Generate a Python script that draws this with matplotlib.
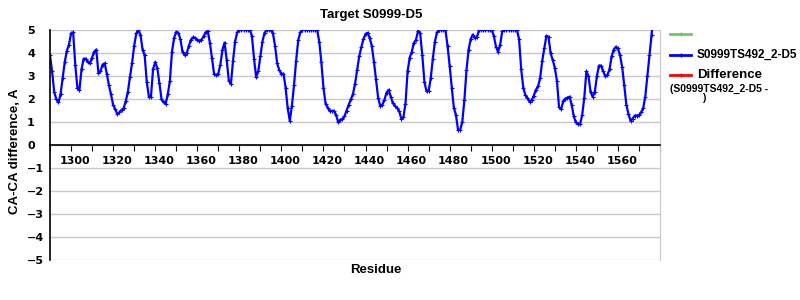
import matplotlib.pyplot as plt
import numpy as np
from matplotlib.lines import Line2D
from matplotlib.transforms import ScaledTranslation

# CA-CA difference per residue (values >= 5 are capped at the chart top)
start_residue = 1290
ca_diff = [
    3.9, 3.2, 2.3, 2.0, 1.85, 2.2, 2.9, 3.6, 4.1, 4.35,          # 1290
    4.85, 4.9, 3.5, 2.5, 2.4, 3.3, 3.75, 3.75, 3.6, 3.55,        # 1300
    3.8, 4.05, 4.15, 3.15, 3.2, 3.5, 3.55, 3.1, 2.6, 2.2,        # 1310
    1.75, 1.55, 1.35, 1.42, 1.52, 1.6, 1.9, 2.3, 2.95, 3.55,     # 1320
    4.3, 4.85, 5.0, 4.8, 4.15, 3.9, 2.75, 2.1, 2.1, 3.3,         # 1330
    3.6, 3.35, 2.7, 2.0, 1.85, 1.8, 2.2, 2.8, 4.06, 4.65,        # 1340
    4.92, 4.88, 4.6, 4.05, 3.9, 4.0, 4.3, 4.58, 4.68, 4.66,      # 1350
    4.58, 4.53, 4.58, 4.72, 4.9, 4.95, 4.45, 3.77, 3.1, 3.03,    # 1360
    3.1, 3.5, 4.15, 4.45, 3.7, 2.8, 2.65, 3.65, 4.5, 4.9,        # 1370
    5.0, 5.0, 5.0, 5.0, 5.0, 5.0, 4.75, 3.75, 2.95, 3.2,         # 1380
    3.85, 4.5, 4.88, 5.0, 5.0, 5.0, 4.85, 4.3, 3.55, 3.25,       # 1390
    3.1, 3.1, 2.5, 1.6, 1.05, 1.7, 2.6, 3.65, 4.55, 4.9,         # 1400
    5.0, 5.0, 5.0, 5.0, 5.0, 5.0, 5.0, 5.0, 4.5, 3.6,            # 1410
    2.5, 1.8, 1.62, 1.48, 1.48, 1.48, 1.3, 1.0, 1.1, 1.13,       # 1420
    1.25, 1.5, 1.75, 1.98, 2.2, 2.65, 3.25, 3.85, 4.25, 4.6,     # 1430
    4.83, 4.88, 4.65, 4.3, 3.62, 2.85, 2.05, 1.7, 1.75, 1.97,    # 1440
    2.28, 2.4, 2.1, 1.82, 1.7, 1.62, 1.47, 1.15, 1.2, 1.8,       # 1450
    3.2, 3.8, 4.05, 4.45, 4.57, 4.97, 4.85, 3.9, 2.75, 2.33,     # 1460
    2.35, 2.9, 3.75, 4.5, 4.9, 5.0, 5.0, 5.0, 5.0, 4.3,          # 1470
    3.45, 2.5, 1.62, 1.3, 0.65, 0.65, 1.0, 1.95, 3.25, 4.15,     # 1480
    4.6, 4.8, 4.65, 4.7, 5.0, 5.0, 5.0, 5.0, 5.0, 5.0,           # 1490
    5.0, 4.75, 4.28, 4.05, 4.35, 4.95, 5.0, 5.0, 5.0, 5.0,       # 1500
    5.0, 5.0, 5.0, 4.6, 3.3, 2.5, 2.17, 2.05, 1.88, 1.95,        # 1510
    2.15, 2.4, 2.55, 2.9, 3.65, 4.2, 4.75, 4.7, 3.99, 3.7,       # 1520
    3.35, 2.8, 1.65, 1.55, 1.9, 2.02, 2.06, 2.1, 1.75, 1.25,     # 1530
    0.98, 0.9, 0.9, 1.3, 2.05, 3.2, 3.0, 2.3, 2.1, 2.3,          # 1540
    3.0, 3.45, 3.45, 3.2, 3.0, 3.04, 3.3, 3.85, 4.15, 4.27,      # 1550
    4.2, 3.9, 3.4, 2.6, 1.75, 1.35, 1.05, 1.15, 1.28, 1.28,      # 1560
    1.3, 1.42, 1.6, 2.1, 3.0, 3.9, 4.8, 5.8,                     # 1570
]
residues = np.arange(start_residue, start_residue + len(ca_diff))

title = "Target S0999-D5"
model_name = "S0999TS492_2-D5"
x_ticks = list(range(1290, 1581, 10))
x_labels = [str(t) if t % 20 == 0 and t < 1580 else "" for t in x_ticks]
y_ticks = list(range(-5, 6))

label_font = "Liberation Sans"

fig = plt.figure(figsize=(8, 3), dpi=100)
ax = fig.add_axes([50 / 800, 1 - 260 / 300, 610 / 800, 230 / 300])

ax.plot(residues, ca_diff, color="#0000ff", lw=1.6, marker="+", ms=3, mew=0.8,
        clip_on=True)

# spines first: moving a spine resets the tick objects
ax.spines["bottom"].set_position(("data", 0))
ax.spines["bottom"].set_linewidth(1.2)
ax.spines["left"].set_linewidth(1.2)
ax.spines["top"].set_visible(False)
ax.spines["right"].set_color("#c8c8c8")

ax.set_xlim(1290, 1580)
ax.set_ylim(-5, 5)
ax.set_yticks(y_ticks)
ax.set_yticklabels([str(t).replace("-", "\u2212") for t in y_ticks])
ax.set_xticks(x_ticks)
ax.set_xticklabels(x_labels)
ax.tick_params(axis="x", direction="out", length=4, width=0.8, pad=4)
ax.tick_params(axis="y", length=0, pad=16.5)
for lab in ax.get_yticklabels():
    lab.set_fontsize(8)
    lab.set_fontweight("bold")
    lab.set_horizontalalignment("left")
shift = ScaledTranslation(4 / 100, 0, fig.dpi_scale_trans)
for lab in ax.get_xticklabels():
    lab.set_fontsize(8)
    lab.set_fontweight("bold")
    lab.set_transform(lab.get_transform() + shift)
ax.grid(axis="y", color="#c8c8c8", lw=1)
ax.set_axisbelow(True)

fig.text(371 / 800, 1 - 15 / 300, title, ha="center", va="center",
         fontsize=9.5, fontweight="bold", family=label_font)
fig.text(15 / 800, 1 - 151 / 300, "CA-CA difference, A", rotation=90,
         ha="center", va="center", fontsize=9.5, fontweight="bold", family=label_font)
fig.text(376 / 800, 1 - 270 / 300, "Residue", ha="center", va="center",
         fontsize=9.5, fontweight="bold", family=label_font)

# legend drawn by hand to the right of the plot
legend_items = [("#66cc66", "", 34, 8.5), ("#0000ff", model_name, 55, 8.5),
                ("#ff0000", "Difference", 75, 9.5)]
for color, label, ypx, size in legend_items:
    y = 1 - ypx / 300
    fig.add_artist(Line2D([670 / 800, 680.5 / 800, 691 / 800], [y, y, y], color=color,
                          lw=2, marker="+", markevery=[1], ms=3,
                          transform=fig.transFigure))
    fig.text(697 / 800, y, label, ha="left", va="center", fontsize=size,
             fontweight="bold", family=label_font)
fig.text(670 / 800, 1 - 89 / 300, "(" + model_name + " -", ha="left", va="center",
         fontsize=7.5, fontweight="bold", family=label_font)
fig.text(702 / 800, 1 - 98 / 300, ")", ha="left", va="center",
         fontsize=7.5, fontweight="bold", family=label_font)

fig.savefig("out.png", dpi=100)
